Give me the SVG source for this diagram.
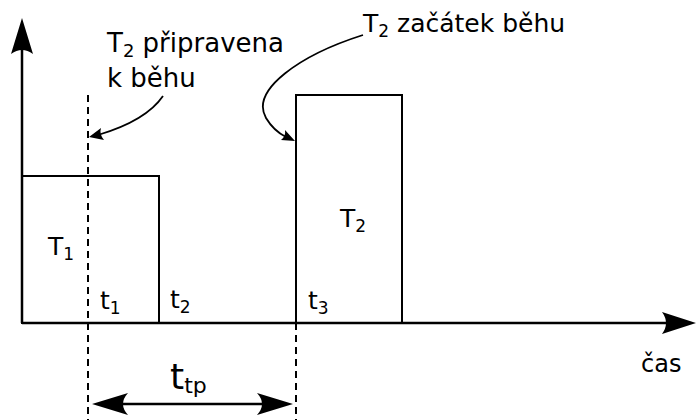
<svg xmlns="http://www.w3.org/2000/svg" width="696" height="420" viewBox="0 0 696 420">
<style>
text{font-family:"DejaVu Sans","Liberation Sans",sans-serif;fill:#000}
.ax{stroke:#000;stroke-width:2.5;fill:none}
.bx{stroke:#000;stroke-width:2;fill:none}
.dash{stroke:#000;stroke-width:2;stroke-dasharray:7,5;fill:none}
.cv{stroke:#000;stroke-width:1.8;fill:none}
.hd{fill:#000;stroke:none}
</style>
<rect width="696" height="420" fill="#fff"/>
<g id="connectors">
<line class="ax" x1="22" y1="323" x2="22" y2="40"/>
<path class="hd" d="M22,18 L33,54 Q22,46 11,54 Z"/>
<line class="ax" x1="22" y1="323" x2="675" y2="323"/>
<path class="hd" d="M696,323 L662,312 Q670,323 662,334 Z"/>
<line class="dash" x1="88" y1="95" x2="88" y2="420"/>
<line class="dash" x1="296" y1="323" x2="296" y2="420"/>
<line class="ax" x1="110" y1="404" x2="276" y2="404"/>
<path class="hd" d="M92,404 L128,393 Q118,404 128,415 Z"/>
<path class="hd" d="M293,404 L257,393 Q267,404 257,415 Z"/>
<path class="cv" d="M163,96 C150,115 125,127 98,135"/>
<path class="hd" d="M89,137 L101,128 Q99,134 104,140 Z"/>
<path class="cv" d="M363,35 C300,55 250,90 266,118 C272,128 278,133 286,137"/>
<path class="hd" d="M295,141 L281,140 Q286,136 285,130 Z"/>
</g>
<g id="T1">
<rect class="bx" x="22" y="176" width="137" height="147"/>
<text x="48" y="255" font-size="25">T<tspan font-size="17" dy="5">1</tspan></text>
</g>
<g id="T2">
<rect class="bx" x="296" y="95" width="106" height="228"/>
<text x="340" y="227" font-size="25">T<tspan font-size="17" dy="5">2</tspan></text>
</g>
<g id="labels">
<text x="100" y="309" font-size="25">t<tspan font-size="17" dy="5">1</tspan></text>
<text x="170" y="308" font-size="25">t<tspan font-size="17" dy="5">2</tspan></text>
<text x="308" y="309" font-size="25">t<tspan font-size="17" dy="5">3</tspan></text>
<text x="641" y="372" font-size="24">čas</text>
<text x="170" y="389" font-size="36">t<tspan font-size="22" dy="4">tp</tspan></text>
<text x="107" y="52" font-size="26">T<tspan font-size="18" dy="5">2</tspan><tspan dy="-5"> připravena</tspan></text>
<text x="107" y="87" font-size="26">k běhu</text>
<text x="363" y="32" font-size="25">T<tspan font-size="17" dy="5">2</tspan><tspan dy="-5"> začátek běhu</tspan></text>
</g>
</svg>
